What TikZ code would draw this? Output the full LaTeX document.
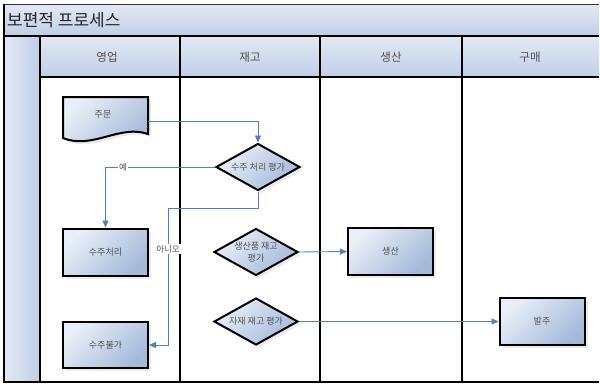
\documentclass[tikz,border=0pt]{standalone}
\usepackage{fontspec}
\setmainfont{Noto Sans CJK KR}
\usetikzlibrary{shapes.geometric,arrows.meta,shadows}

\definecolor{flowblue}{HTML}{4F81BD}
\definecolor{boxlight}{HTML}{E9EFF8}
\definecolor{boxdark}{HTML}{A4BAD9}
\definecolor{headlight}{HTML}{E2E9F4}
\definecolor{headdark}{HTML}{C0CFE5}
\definecolor{txtgray}{HTML}{505050}

\tikzset{
  boxshade/.style={top color=boxlight, bottom color=boxdark, shading angle=45},
  boxshadow/.style={drop shadow={opacity=0.16, shadow xshift=3pt, shadow yshift=-3pt}},
  procbox/.style={rectangle, draw=black, line width=2pt, boxshade, boxshadow,
    minimum width=85pt, minimum height=47pt, inner sep=0pt,
    font=\fontsize{9}{10}\selectfont, text=txtgray},
  decbox/.style={diamond, draw=black, line width=2pt, boxshade, boxshadow,
    minimum width=84pt, minimum height=47pt, inner sep=0pt},
  declabel/.style={font=\fontsize{9}{12}\selectfont, text=txtgray, align=center, inner sep=0pt},
  flow/.style={draw=flowblue, line width=0.9pt, -{Triangle[length=7pt,width=6pt]}},
  edgelabel/.style={fill=white, inner sep=1pt, font=\fontsize{8.5}{9}\selectfont, text=txtgray},
  lane/.style={draw=black, line width=2.2pt},
  headcell/.style={top color=headlight, bottom color=headdark},
  headtext/.style={font=\fontsize{11.5}{13}\selectfont, text=txtgray},
}

\begin{document}
% units of 1pt, origin at the top-left corner, y growing upwards (so negative below)
\begin{tikzpicture}[x=1pt,y=1pt]
\useasboundingbox (0,0) rectangle (600,-384);

% title bar and lane headers
\shade[headcell] (4,-4) rectangle (599,-36);
\draw[draw=black!80, line width=1pt] (4,-4) -- (599,-4);
\node[anchor=west, font=\fontsize{17}{18}\selectfont, text=black!85, inner sep=0pt] (title) at (7,-20) {보편적 프로세스};

\shade[left color=headlight, right color=headdark] (4,-36) rectangle (40,-382);
\shade[headcell] (40,-36) rectangle (599,-77);

\node[headtext] (h1) at (107,-57) {영업};
\node[headtext] (h2) at (250,-57) {재고};
\node[headtext] (h3) at (391,-57) {생산};
\node[headtext] (h4) at (530,-57) {구매};

% swimlane grid
\draw[lane] (4,-4) -- (4,-382) -- (599,-382);
\draw[lane] (4,-36) -- (599,-36);
\draw[lane] (40,-77) -- (599,-77);
\foreach \lx in {40,180,320,462} {
  \draw[lane] (\lx,-36) -- (\lx,-382);
}

% document shape for the order
\node[minimum width=85pt, minimum height=42pt, inner sep=0pt] (order) at (105.5,-118) {};
\path[boxshade, boxshadow, draw=black, line width=2pt]
  (63,-97) -- (148,-97) -- (148,-134) .. controls (120,-124) and (92,-150) .. (63,-138) -- cycle;
\node[font=\fontsize{9}{10}\selectfont, text=txtgray] (ordertext) at (103,-114) {주문};

% decisions
\node[decbox, label={[declabel]center:수주 처리 평가}] (q1) at (258,-167) {};
\node[decbox, label={[declabel]center:생산품 재고\\평가}] (q2) at (256,-252) {};
\node[decbox, label={[declabel]center:자재 재고 평가}] (q3) at (256,-321.5) {};

% processes
\node[procbox] (p1) at (105.5,-252) {수주처리};
\node[procbox, minimum height=46pt] (p2) at (105.5,-345) {수주불가};
\node[procbox] (p3) at (390.5,-251.5) {생산};
\node[procbox] (p4) at (542,-321.5) {발주};

% connectors
\coordinate (nobend) at (168,-208);
\draw[flow] ([yshift=-3pt]order.east) -| (q1.north);
\draw[flow] (q1.west) -| (p1.north) node[edgelabel, pos=0.42] {예};
\draw[draw=flowblue, line width=0.9pt] (q1.south) |- (nobend);
\draw[flow] (nobend) |- (p2.east) node[edgelabel, pos=0.15] {아니오};
\draw[flow] (q2.east) -- (p3.west);
\draw[flow] (q3.east) -- (p4.west);
\end{tikzpicture}
\end{document}
